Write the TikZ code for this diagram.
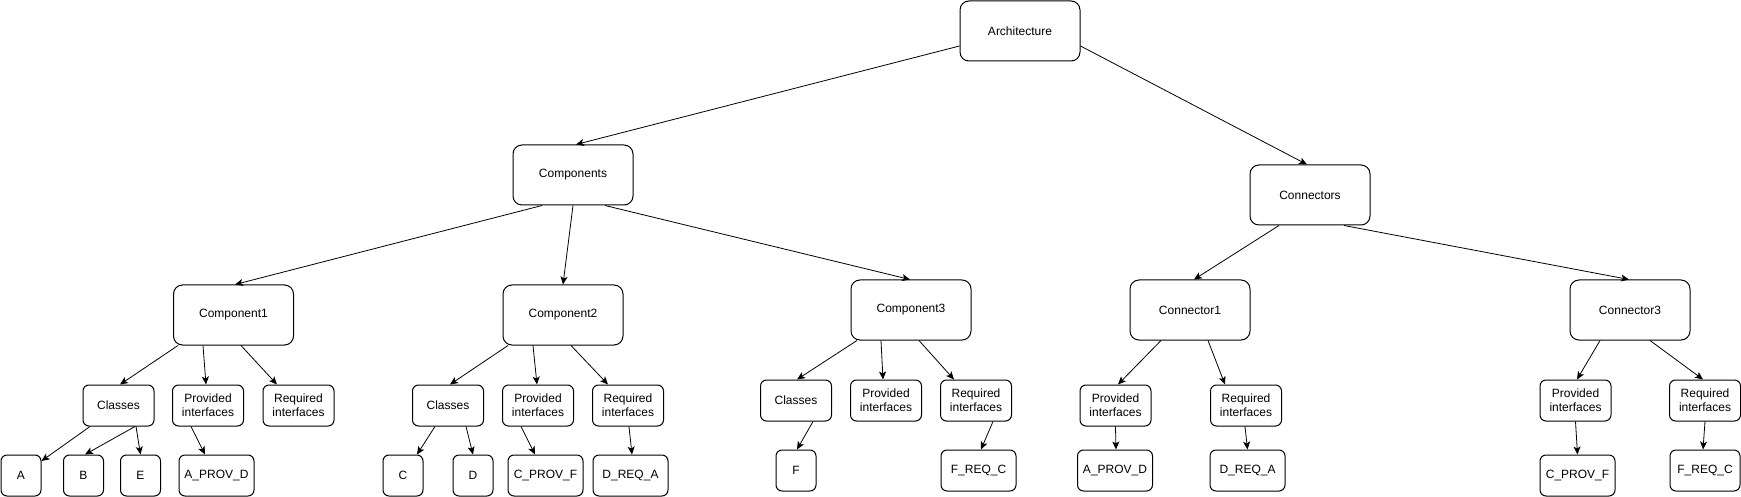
\documentclass[tikz,border=0pt]{standalone}
\usepackage{fontspec}
\setmainfont{Liberation Sans}
\usetikzlibrary{arrows.meta}
\begin{document}
\begin{tikzpicture}[x=1pt,y=-1pt,
  every node/.style={font=\fontsize{12}{14}\selectfont},
  bigbox/.style={draw, line width=1pt, rounded corners=9pt, minimum width=120pt, minimum height=60pt, inner sep=0pt},
  smallbox/.style={draw, line width=1pt, rounded corners=6pt, minimum width=71pt, minimum height=41pt, inner sep=0pt, align=center},
  leafbox/.style={smallbox, minimum width=40pt},
  namebox/.style={smallbox, minimum width=75pt},
  arr/.style={draw, line width=0.8pt, -{Stealth[length=8pt,width=7pt,inset=2pt]}}
]
\path[use as bounding box, fill=white] (0,0) rectangle (1741,497);

% level 0-1
\node[bigbox] (arch) at (1020,31) {Architecture};
\node[bigbox] (comps) at (573,175) {Components};
\node[bigbox] (conns) at (1310,195) {Connectors};

% level 2
\node[bigbox] (comp1) at (233.5,315) {Component1};
\node[bigbox] (comp2) at (563,315) {Component2};
\node[bigbox] (comp3) at (911,310) {Component3};
\node[bigbox] (con1) at (1190,310) {Connector1};
\node[bigbox] (con3) at (1630,310) {Connector3};

% level 3
\node[smallbox] (cls1) at (118.5,405.5) {Classes};
\node[smallbox] (prov1) at (208,405.5) {Provided\\interfaces};
\node[smallbox] (req1) at (298.5,405.5) {Required\\interfaces};
\node[smallbox] (cls2) at (448,405.5) {Classes};
\node[smallbox] (prov2) at (538,405.5) {Provided\\interfaces};
\node[smallbox] (req2) at (628,405.5) {Required\\interfaces};
\node[smallbox] (cls3) at (796,400.5) {Classes};
\node[smallbox] (prov3) at (886,400.5) {Provided\\interfaces};
\node[smallbox] (req3) at (976,400.5) {Required\\interfaces};
\node[smallbox] (provc1) at (1115.5,405.5) {Provided\\interfaces};
\node[smallbox] (reqc1) at (1246,405.5) {Required\\interfaces};
\node[smallbox] (provc3) at (1575.5,400.5) {Provided\\interfaces};
\node[smallbox] (reqc3) at (1705,400.5) {Required\\interfaces};

% level 4
\node[leafbox] (A) at (21,475.5) {A};
\node[leafbox] (B) at (83.5,475.5) {B};
\node[leafbox] (E) at (140.5,475.5) {E};
\node[namebox] (apd1) at (216.5,475.5) {A\_PROV\_D};
\node[leafbox] (C) at (403,475.5) {C};
\node[leafbox] (D) at (473,475.5) {D};
\node[namebox] (cpf2) at (545.5,475.5) {C\_PROV\_F};
\node[namebox] (dra2) at (630.5,475.5) {D\_REQ\_A};
\node[leafbox] (F) at (796,470.5) {F};
\node[namebox] (frc3) at (978.5,470.5) {F\_REQ\_C};
\node[namebox] (apdc1) at (1115,470.5) {A\_PROV\_D};
\node[namebox] (drac1) at (1247.5,470.5) {D\_REQ\_A};
\node[namebox] (cpfc3) at (1577.5,475.5) {C\_PROV\_F};
\node[smallbox, minimum width=70pt] (frcc3) at (1705,470.5) {F\_REQ\_C};

% edges
\path[arr] ([yshift=-15pt]arch.west) -- ([xshift=3pt]comps.north);
\path[arr] ([yshift=-15pt]arch.east) -- ([xshift=-3pt]conns.north);

\path[arr] ([xshift=-31pt]comps.south) -- ([xshift=1.5pt]comp1.north);
\path[arr] (comps.south) -- (comp2.north);
\path[arr] ([xshift=32pt]comps.south) -- ([xshift=-1pt]comp3.north);
\path[arr] ([xshift=-31pt]conns.south) -- ([xshift=4pt]con1.north);
\path[arr] ([xshift=34pt]conns.south) -- ([xshift=-1pt]con3.north);

\path[arr] ([xshift=-55.5pt]comp1.south) -- ([xshift=1.5pt]cls1.north);
\path[arr] ([xshift=-30.5pt]comp1.south) -- ([xshift=-2pt]prov1.north);
\path[arr] ([xshift=7.5pt]comp1.south) -- ([xshift=-21.5pt]req1.north);
\path[arr] ([xshift=-28.5pt]cls1.south) -- ([yshift=14.5pt]A.east);
\path[arr] ([xshift=16.5pt]cls1.south) -- ([xshift=1.5pt]B.north);
\path[arr] ([xshift=17.5pt]cls1.south) -- (E.north);
\path[arr] ([xshift=-17pt]prov1.south) -- ([xshift=-11.5pt]apd1.north);

\path[arr] ([xshift=-55pt]comp2.south) -- ([xshift=2pt]cls2.north);
\path[arr] ([xshift=-30pt]comp2.south) -- ([xshift=-1pt]prov2.north);
\path[arr] ([xshift=8pt]comp2.south) -- ([xshift=-20pt]req2.north);
\path[arr] ([xshift=-13pt]cls2.south) -- ([xshift=14pt]C.north);
\path[arr] ([xshift=18pt]cls2.south) -- (D.north);
\path[arr] ([xshift=-17pt]prov2.south) -- ([xshift=-10.5pt]cpf2.north);
\path[arr] ([xshift=1pt]req2.south) -- ([xshift=1.5pt]dra2.north);

\path[arr] ([xshift=-54pt]comp3.south) -- ([xshift=1pt]cls3.north);
\path[arr] ([xshift=-30pt]comp3.south) -- ([xshift=-3pt]prov3.north);
\path[arr] ([xshift=8pt]comp3.south) -- ([xshift=-22pt]req3.north);
\path[arr] ([xshift=17pt]cls3.south) -- ([xshift=1pt]F.north);
\path[arr] ([xshift=17pt]req3.south) -- ([xshift=2.5pt]frc3.north);

\path[arr] ([xshift=-29pt]con1.south) -- ([xshift=2.5pt]provc1.north);
\path[arr] ([xshift=18pt]con1.south) -- ([xshift=-21pt]reqc1.north);
\path[arr] (provc1.south) -- ([xshift=1pt]apdc1.north);
\path[arr] ([xshift=-1pt]reqc1.south) -- (drac1.north);

\path[arr] ([xshift=-30pt]con3.south) -- ([xshift=1.5pt]provc3.north);
\path[arr] ([xshift=20pt]con3.south) -- ([xshift=-2pt]reqc3.north);
\path[arr] (provc3.south) -- (cpfc3.north);
\path[arr] (reqc3.south) -- ([xshift=-2pt]frcc3.north);
\end{tikzpicture}
\end{document}
